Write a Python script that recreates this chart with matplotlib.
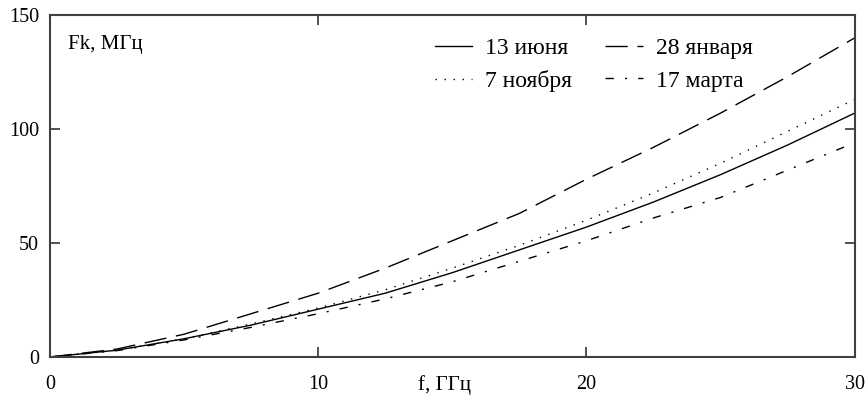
import numpy as np
import matplotlib.pyplot as plt

plt.rcParams['font.family'] = ['Liberation Serif', 'DejaVu Serif']

# Data
f_ghz = [0, 2.5, 5, 7.5, 10, 12.5, 15, 17.5, 20, 22.5, 25, 27.5, 30]
jun13 = [0, 3, 8, 14, 21, 28, 37, 47, 57, 68, 80, 93, 107]
nov7 = [0, 3, 8, 14.5, 21.5, 29.5, 39, 49, 60, 72, 85, 99, 113]
jan28 = [0, 3.5, 10, 19, 28, 39, 51, 63, 78, 92, 107, 123, 140]
mar17 = [0, 2.8, 7.5, 13, 19, 25.5, 33, 42, 51, 61, 70, 82, 94]

xticks = [0, 10, 20, 30]
yticks = [0, 50, 100, 150]

fig = plt.figure(figsize=(8.68, 3.98), dpi=100)
ax = fig.add_axes([0.0576, 0.103, 0.927, 0.859])

ax.plot(f_ghz, jun13, color='black', linewidth=1.0, label='13 июня')
ax.plot(f_ghz, nov7, color='black', linewidth=1.0, dashes=(1, 5.5),
        label='7 ноября')
ax.plot(f_ghz, jan28, color='black', linewidth=1.0, dashes=(16, 7),
        label='28 января')
ax.plot(f_ghz, mar17, color='black', linewidth=1.0, dashes=(6, 8, 1.5, 8),
        label='17 марта')

ax.set_xlim(0, 30)
ax.set_ylim(0, 150)
ax.set_xticks(xticks)
ax.set_yticks(yticks)
ax.tick_params(direction='in', length=7, width=1.2, color='#333333',
               top=True, right=True, labelsize=14.5, pad=8)
ax.tick_params(axis='x', pad=13)
for s in ax.spines.values():
    s.set_color('#404040')
    s.set_linewidth(1.5)

ax.text(0.022, 0.915, 'Fk, МГц', transform=ax.transAxes, fontsize=15,
        va='center')
ax.text(0.49, -0.082, 'f, ГГц', transform=ax.transAxes, fontsize=15,
        ha='center', va='center')

ax.legend(ncol=2, frameon=False, fontsize=17, loc='upper left',
          bbox_to_anchor=(0.478, 0.935), borderpad=0, borderaxespad=0,
          handlelength=1.6, handletextpad=0.55, columnspacing=1.4,
          labelspacing=0.48)

plt.savefig('out.png', dpi=100)
